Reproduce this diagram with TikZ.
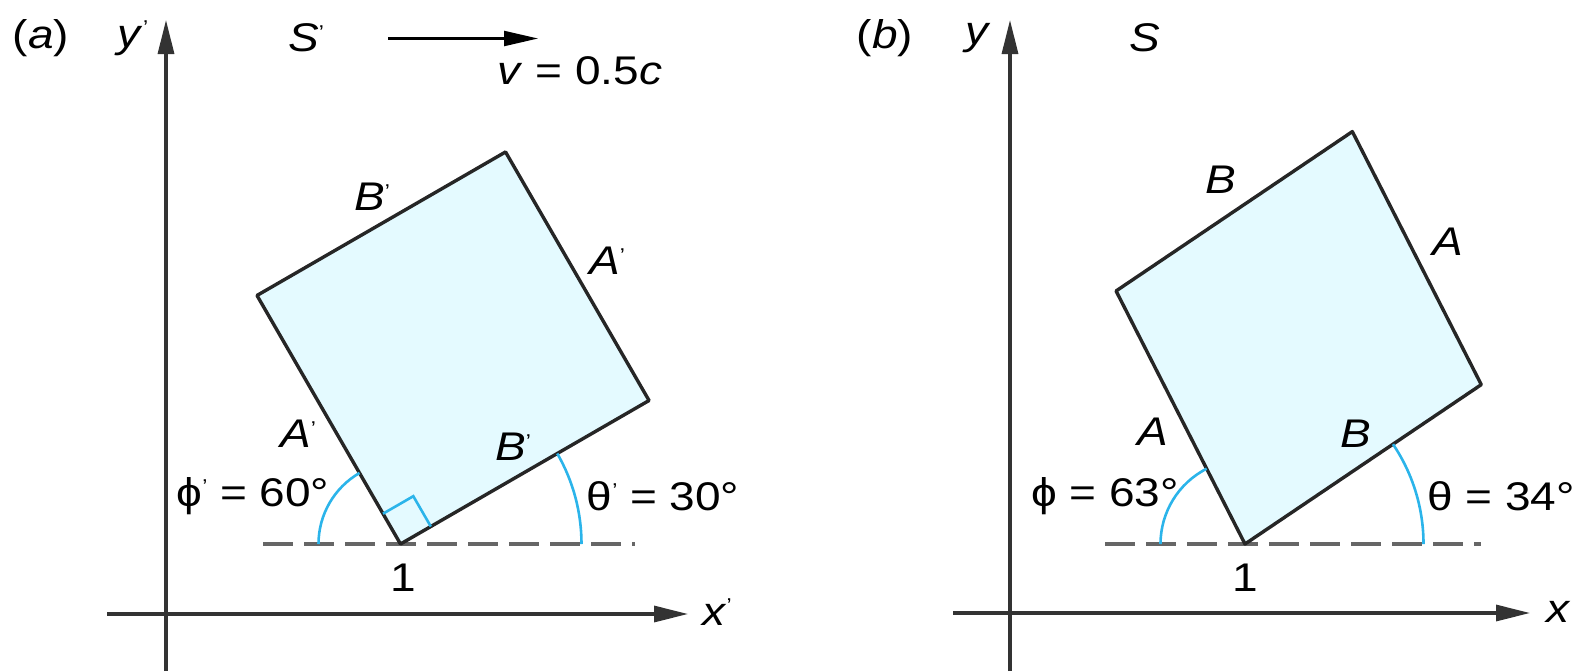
\documentclass[tikz,border=0pt]{standalone}
\usepackage{fontspec}
\setmainfont[FakeStretch=1.15]{Liberation Sans}
\usetikzlibrary{arrows.meta,calc}
\definecolor{sqfill}{HTML}{E4FAFF}
\definecolor{arcblue}{HTML}{2BB4EA}
\definecolor{axisgray}{HTML}{333333}
\definecolor{dashgray}{HTML}{666666}
\newcommand{\pr}{\raisebox{0.6ex}{\fontsize{10}{10}\selectfont\textquoteright}}
\begin{document}
\begin{tikzpicture}[x=0.5pt,y=-0.5pt,
  lbl/.style={font=\fontsize{20}{24}\selectfont, text=black, inner sep=0pt},
  axis/.style={draw=axisgray, line width=1.6pt, -{Triangle[length=17pt,width=8pt]}},
  sq/.style={draw=black!85, line width=1.7pt, fill=sqfill, line join=round},
  dashline/.style={draw=dashgray, line width=1.6pt, dash pattern=on 15pt off 5.5pt},
  anglearc/.style={draw=arcblue, line width=1.3pt},
  vel/.style={draw=black, line width=1.1pt, -{Triangle[length=17pt,width=7.5pt]}}
]
\useasboundingbox (0,0) rectangle (1585,671);

% ---------- panel (a) ----------
\coordinate (ayb) at (166,671);
\coordinate (ayt) at (166,20);
\coordinate (axl) at (107,614);
\coordinate (axr) at (688,614);
\draw[axis] (ayb) -- (ayt);
\draw[axis] (axl) -- (axr);

\coordinate (a1) at (400.5,544);
\coordinate (aR) at ($(a1)+(-30:287)$);
\coordinate (aL) at ($(a1)+(-120:287)$);
\coordinate (aT) at ($(aR)+(-120:287)$);
\coordinate (adl) at (263,544);
\coordinate (adr) at (635,544);

\draw[dashline] (adl) -- (adr);
\draw[sq] (a1) -- (aR) -- (aT) -- (aL) -- cycle;
\draw[anglearc] ($(a1)+(-30:35)$) -- ($(a1)+(-30:35)+(-120:35)$) -- ($(a1)+(-120:35)$);
\draw[anglearc] ($(a1)+(180:82)$) arc[start angle=180, end angle=240, radius=82];
\draw[anglearc] ($(a1)+(0:181)$) arc[start angle=0, end angle=-30, radius=181];

\coordinate (vs) at (388,38.5);
\coordinate (ve) at (538,38.5);
\draw[vel] (vs) -- (ve);

\node[lbl] (la) at (41,38) {(\textit{a})};
\node[lbl] (lya) at (133,38) {\textit{y}\pr};
\node[lbl] (lSa) at (306,38) {\textit{S}\pr};
\node[lbl] (lv) at (580,71) {\textit{v} = 0.5\textit{c}};
\node[lbl] (lBt) at (372,197) {\textit{B}\pr};
\node[lbl] (lAr) at (607,261) {\textit{A}\pr};
\node[lbl] (lAl) at (298,434) {\textit{A}\pr};
\node[lbl] (lBb) at (513,447) {\textit{B}\pr};
\node[lbl] (lphia) at (253,496) {ϕ\pr\ = 60°};
\node[lbl] (ltha) at (663,496) {θ\pr\ = 30°};
\node[lbl] (l1a) at (403,578) {1};
\node[lbl] (lxa) at (717,612) {\textit{x}\pr};

% ---------- panel (b) ----------
\coordinate (byb) at (1010,671);
\coordinate (byt) at (1010,20);
\coordinate (bxl) at (953,613);
\coordinate (bxr) at (1530,613);
\draw[axis] (byb) -- (byt);
\draw[axis] (bxl) -- (bxr);

\coordinate (b1) at (1245,544);
\coordinate (bR) at ($(b1)+(-34:285)$);
\coordinate (bL) at ($(b1)+(-117:284)$);
\coordinate (bT) at ($(bR)+(-117:284)$);
\coordinate (bdl) at (1105,544);
\coordinate (bdr) at (1481,544);

\draw[dashline] (bdl) -- (bdr);
\draw[sq] (b1) -- (bR) -- (bT) -- (bL) -- cycle;
\draw[anglearc] ($(b1)+(180:84.5)$) arc[start angle=180, end angle=243, radius=84.5];
\draw[anglearc] ($(b1)+(0:178.5)$) arc[start angle=0, end angle=-34, radius=178.5];

\node[lbl] (lb) at (885,38) {(\textit{b})};
\node[lbl] (lyb) at (978,38) {\textit{y}};
\node[lbl] (lSb) at (1145,38) {\textit{S}};
\node[lbl] (lBtb) at (1221,180) {\textit{B}};
\node[lbl] (lArb) at (1448,242) {\textit{A}};
\node[lbl] (lAlb) at (1153,432) {\textit{A}};
\node[lbl] (lBbb) at (1356,434) {\textit{B}};
\node[lbl] (lphib) at (1105,496) {ϕ = 63°};
\node[lbl] (lthb) at (1501,496) {θ = 34°};
\node[lbl] (l1b) at (1245,578) {1};
\node[lbl] (lxb) at (1559,612) {\textit{x}};
\end{tikzpicture}
\end{document}
